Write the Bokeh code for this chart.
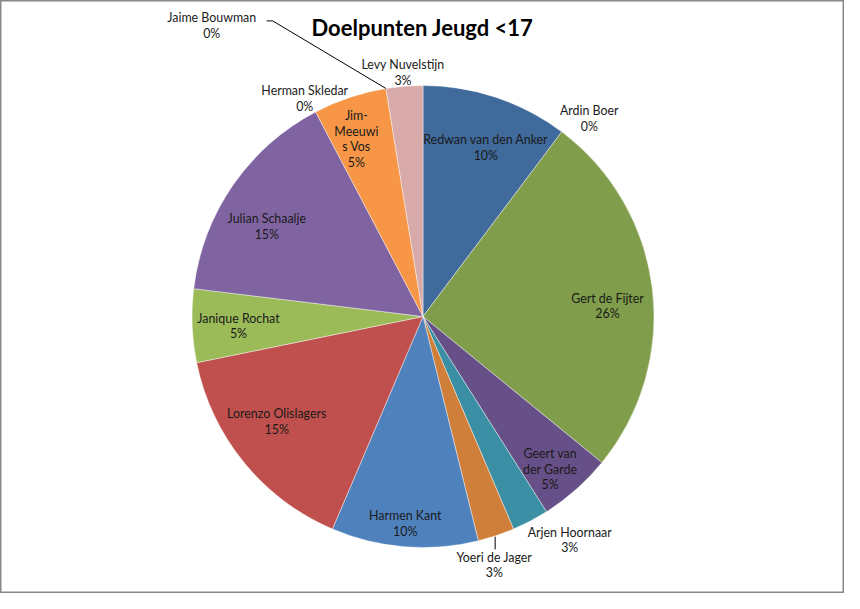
import math
from bokeh.plotting import figure
from bokeh.models import Range1d
from bokeh.embed import file_html
from bokeh.resources import INLINE
from bokeh.core.properties import value

# ---- data ----
chart_title = "Doelpunten Jeugd <17"
players = ["Redwan van den Anker", "Ardin Boer", "Gert de Fijter", "Geert van der Garde",
           "Arjen Hoornaar", "Yoeri de Jager", "Harmen Kant", "Lorenzo Olislagers",
           "Janique Rochat", "Julian Schaalje", "Herman Skledar", "Jim-Meeuwis Vos",
           "Jaime Bouwman", "Levy Nuvelstijn"]
goals = [4, 0, 10, 2, 1, 1, 4, 6, 2, 6, 0, 2, 0, 1]
label_lines = [["Redwan van den Anker"], ["Ardin Boer"], ["Gert de Fijter"], ["Geert van", "der Garde"],
               ["Arjen Hoornaar"], ["Yoeri de Jager"], ["Harmen Kant"], ["Lorenzo Olislagers"],
               ["Janique Rochat"], ["Julian Schaalje"], ["Herman Skledar"], ["Jim-", "Meeuwi", "s Vos"],
               ["Jaime Bouwman"], ["Levy Nuvelstijn"]]

# ---- style / layout ----
colors = ["#3F6A9B", "#9E413E", "#7F9D4A", "#674F87", "#3A8FA4", "#D07F3A", "#4F81BD",
          "#C0504D", "#9BBB59", "#8064A2", "#4BACC6", "#F79646", "#2C4D75", "#D9AAAA"]
# label placement: (angle clockwise from 12 o'clock in degrees, distance as fraction of radius)
label_angle = [20.4, 40.0, 86.7, 140.2, 146.7, 164.0, 184.9, 234.3, 267.0, 299.9, 331.5, 339.4, 324.0, 355.3]
label_dist = [0.78, 1.12, 0.80, 0.86, 1.157, 1.12, 0.90, 0.78, 0.80, 0.78, 1.073, 0.82, 1.556, 1.06]

W, H = 844, 593
FONT = "Lato"
FS = "12.4px"
LH = 15.6

p = figure(width=W, height=H, output_backend="svg", toolbar_location=None,
           x_range=Range1d(0, W), y_range=Range1d(0, H), min_border=0)
p.axis.visible = False
p.xgrid.visible = False
p.ygrid.visible = False
p.background_fill_color = "white"
p.border_fill_color = "white"
p.outline_line_color = "#888888"
p.outline_line_width = 2

cx, cy, R = 422.5, 277.0, 231.0
total = sum(goals)

start = 0.0
mids = []
starts = []
for g, c in zip(goals, colors):
    sweep = 360.0 * g / total
    end = start + sweep
    starts.append(start)
    mids.append(start + sweep / 2)
    if g > 0:
        p.wedge(x=cx, y=cy, radius=R,
                start_angle=math.radians(90 - start), end_angle=math.radians(90 - end),
                direction="clock", fill_color=c, line_color="white", line_width=0.6, line_alpha=0.7)
    start = end

def polar(deg, r):
    a = math.radians(deg)
    return cx + r * math.sin(a), cy + r * math.cos(a)

label_pos = []
for i, (lines, g) in enumerate(zip(label_lines, goals)):
    pct = "%d%%" % round(100.0 * g / total)
    all_lines = lines + [pct]
    lx, ly = polar(label_angle[i], label_dist[i] * R)
    n = len(all_lines)
    label_pos.append((lx, ly, n))
    ys = [ly + (n - 1) / 2 * LH - k * LH for k in range(n)]
    p.text(x=[lx] * n, y=ys, text=all_lines, text_align="center", text_baseline="middle",
           text_font=value(FONT), text_font_size=FS, text_color="#1a1a1a")

# leader line for Jaime Bouwman (index 12)
jx, jy, jn = label_pos[12]
line1_y = jy + (jn - 1) / 2 * LH - 3
ex, ey = polar(starts[12], R)
p.line(x=[jx + 55, jx + 61, ex], y=[line1_y, line1_y, ey], line_color="black", line_width=1)

# leader line for Yoeri de Jager (index 5)
yx, yy, yn = label_pos[5]
ex, ey = polar(mids[5], R)
top_y = yy + (yn - 1) / 2 * LH + 8
p.line(x=[ex - 1, ex - 1], y=[ey - 1, top_y], line_color="black", line_width=1)

# title
p.text(x=[422], y=[H - 26.5], text=[chart_title], text_align="center", text_baseline="middle",
       text_font=value(FONT), text_font_size="22px", text_font_style="bold", text_color="black")

open("out.html", "w").write(file_html(p, INLINE))
